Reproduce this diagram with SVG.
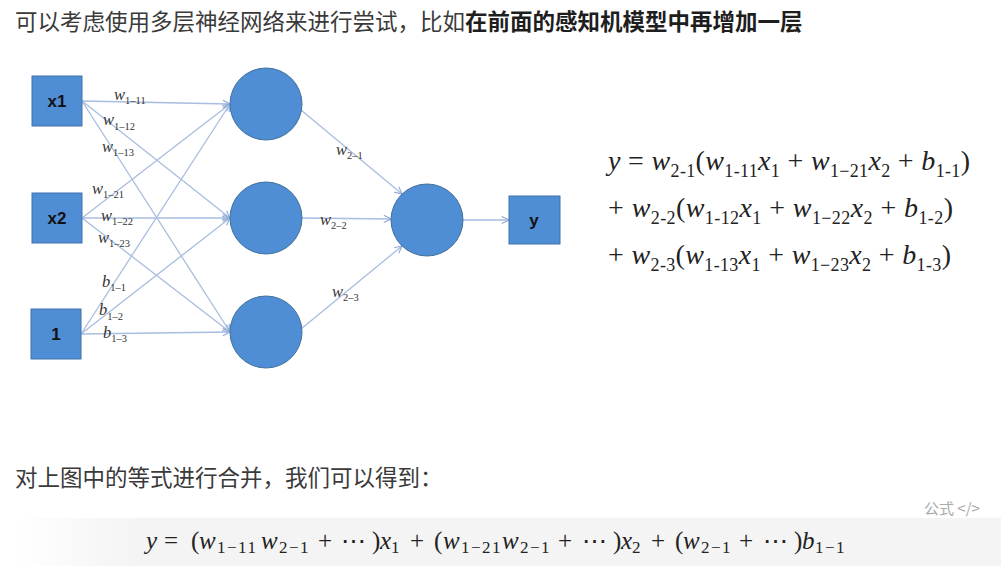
<svg xmlns="http://www.w3.org/2000/svg" width="1001" height="574" viewBox="0 0 1001 574">
<style>
.cn{font-family:"Noto Sans CJK SC","Noto Sans",sans-serif;font-size:22.5px;fill:#3a3a3a}
.cnb{font-weight:bold;fill:#1e1e1e}
.box{fill:#4f8dd4;stroke:#3f72ae;stroke-width:1}
.cir{fill:#4f8dd4;stroke:#41719c;stroke-width:1}
.nt{font-family:"Liberation Sans",Arial,sans-serif;font-weight:bold;font-size:17px;fill:#111;text-anchor:middle}
.conn{stroke:#a8bde0;stroke-width:1.3;fill:none}
.lbl{font-family:"Liberation Serif",serif;font-style:italic;font-size:16.5px;fill:#333}
.ls{font-style:normal;font-size:10.5px}
.eq{font-family:"Liberation Serif",serif;font-size:28px;fill:#222}
.v{font-style:italic}
.es{font-size:18px}
.mf{font-family:"Liberation Serif","DejaVu Serif",serif;font-size:25px;fill:#222}
.ms{font-size:17px;letter-spacing:1.5px}
.tag{font-family:"Noto Sans CJK SC",sans-serif;font-size:15px;fill:#aaa}
</style>
<defs>
<marker id="ah" viewBox="0 0 10 10" refX="9" refY="5" markerWidth="9" markerHeight="9" orient="auto" markerUnits="userSpaceOnUse">
<path d="M1,1 L9,5 L1,9" fill="none" stroke="#93acd6" stroke-width="1.3"/>
</marker>
<linearGradient id="band" x1="0" y1="0" x2="1" y2="0">
<stop offset="0" stop-color="#ffffff"/>
<stop offset="0.12" stop-color="#f4f4f4"/>
<stop offset="1" stop-color="#f4f4f4"/>
</linearGradient>
</defs>
<rect width="1001" height="574" fill="#ffffff"/>

<text x="15" y="30" class="cn">可以考虑使用多层神经网络来进行尝试，比如<tspan class="cnb">在前面的感知机模型中再增加一层</tspan></text>

<g id="connectors">
<line class="conn" x1="82" y1="101" x2="230" y2="104" marker-end="url(#ah)"/>
<line class="conn" x1="82" y1="101" x2="230" y2="218" marker-end="url(#ah)"/>
<line class="conn" x1="82" y1="101" x2="230" y2="332" marker-end="url(#ah)"/>
<line class="conn" x1="82" y1="218" x2="230" y2="104" marker-end="url(#ah)"/>
<line class="conn" x1="82" y1="218" x2="230" y2="218" marker-end="url(#ah)"/>
<line class="conn" x1="82" y1="218" x2="230" y2="332" marker-end="url(#ah)"/>
<line class="conn" x1="81" y1="334" x2="230" y2="104" marker-end="url(#ah)"/>
<line class="conn" x1="81" y1="334" x2="230" y2="218" marker-end="url(#ah)"/>
<line class="conn" x1="81" y1="334" x2="230" y2="332" marker-end="url(#ah)"/>
<line class="conn" x1="301" y1="110" x2="402" y2="194" marker-end="url(#ah)"/>
<line class="conn" x1="302" y1="218" x2="391" y2="219" marker-end="url(#ah)"/>
<line class="conn" x1="301" y1="329" x2="402" y2="246" marker-end="url(#ah)"/>
<line class="conn" x1="463" y1="220" x2="509" y2="220" marker-end="url(#ah)"/>
</g>

<g id="labels">
<text class="lbl" x="114" y="100">w<tspan class="ls" dy="4">1–11</tspan></text>
<text class="lbl" x="103" y="125">w<tspan class="ls" dy="5">1–12</tspan></text>
<text class="lbl" x="102" y="152">w<tspan class="ls" dy="4">1–13</tspan></text>
<text class="lbl" x="92" y="194">w<tspan class="ls" dy="4">1–21</tspan></text>
<text class="lbl" x="101" y="221">w<tspan class="ls" dy="4">1–22</tspan></text>
<text class="lbl" x="98" y="243">w<tspan class="ls" dy="4">1–23</tspan></text>
<text class="lbl" x="102" y="287">b<tspan class="ls" dy="4">1–1</tspan></text>
<text class="lbl" x="99" y="315">b<tspan class="ls" dy="5">1–2</tspan></text>
<text class="lbl" x="103" y="338">b<tspan class="ls" dy="4">1–3</tspan></text>
<text class="lbl" x="336" y="155">w<tspan class="ls" dy="4">2–1</tspan></text>
<text class="lbl" x="320" y="225">w<tspan class="ls" dy="4">2–2</tspan></text>
<text class="lbl" x="332" y="297">w<tspan class="ls" dy="4">2–3</tspan></text>
</g>

<g id="x1"><rect class="box" x="32" y="76" width="50" height="50"/><text class="nt" x="57" y="107">x1</text></g>
<g id="x2"><rect class="box" x="32" y="193" width="50" height="50"/><text class="nt" x="57" y="224">x2</text></g>
<g id="bias"><rect class="box" x="31" y="309" width="50" height="50"/><text class="nt" x="56" y="340">1</text></g>
<g id="h1"><circle class="cir" cx="266" cy="104" r="36"/></g>
<g id="h2"><circle class="cir" cx="266" cy="218" r="36"/></g>
<g id="h3"><circle class="cir" cx="266" cy="332" r="36"/></g>
<g id="out"><circle class="cir" cx="427" cy="220" r="36"/></g>
<g id="y"><rect class="box" x="509" y="196" width="51" height="48"/><text class="nt" x="534" y="226">y</text></g>

<g id="eq-right">
<text class="eq" x="608" y="170" textLength="362" lengthAdjust="spacing"><tspan class="v">y</tspan> = <tspan class="v">w</tspan><tspan class="es" dy="7">2-1</tspan><tspan dy="-7">(</tspan><tspan class="v">w</tspan><tspan class="es" dy="7">1-11</tspan><tspan class="v" dy="-7">x</tspan><tspan class="es" dy="7">1</tspan><tspan dy="-7"> + </tspan><tspan class="v">w</tspan><tspan class="es" dy="7">1−21</tspan><tspan class="v" dy="-7">x</tspan><tspan class="es" dy="7">2</tspan><tspan dy="-7"> + </tspan><tspan class="v">b</tspan><tspan class="es" dy="7">1-1</tspan><tspan dy="-7">)</tspan></text>
<text class="eq" x="608" y="217" textLength="345" lengthAdjust="spacing">+ <tspan class="v">w</tspan><tspan class="es" dy="7">2-2</tspan><tspan dy="-7">(</tspan><tspan class="v">w</tspan><tspan class="es" dy="7">1-12</tspan><tspan class="v" dy="-7">x</tspan><tspan class="es" dy="7">1</tspan><tspan dy="-7"> + </tspan><tspan class="v">w</tspan><tspan class="es" dy="7">1−22</tspan><tspan class="v" dy="-7">x</tspan><tspan class="es" dy="7">2</tspan><tspan dy="-7"> + </tspan><tspan class="v">b</tspan><tspan class="es" dy="7">1-2</tspan><tspan dy="-7">)</tspan></text>
<text class="eq" x="608" y="264" textLength="343" lengthAdjust="spacing">+ <tspan class="v">w</tspan><tspan class="es" dy="7">2-3</tspan><tspan dy="-7">(</tspan><tspan class="v">w</tspan><tspan class="es" dy="7">1-13</tspan><tspan class="v" dy="-7">x</tspan><tspan class="es" dy="7">1</tspan><tspan dy="-7"> + </tspan><tspan class="v">w</tspan><tspan class="es" dy="7">1−23</tspan><tspan class="v" dy="-7">x</tspan><tspan class="es" dy="7">2</tspan><tspan dy="-7"> + </tspan><tspan class="v">b</tspan><tspan class="es" dy="7">1-3</tspan><tspan dy="-7">)</tspan></text>
</g>

<text x="15" y="486" class="cn" font-size="22">对上图中的等式进行合并，我们可以得到：</text>
<text x="924" y="514" class="tag">公式 &lt;/&gt;</text>

<rect x="15" y="518" width="986" height="48" fill="url(#band)"/>
<text class="mf" y="549"><tspan class="v" x="146">y</tspan><tspan x="164">=</tspan><tspan x="191">(</tspan><tspan class="v" x="199">w</tspan><tspan class="ms" x="217" y="553">1−11</tspan><tspan class="v" x="261" y="549">w</tspan><tspan class="ms" x="279" y="553">2−1</tspan><tspan x="318" y="549">+</tspan><tspan x="341">⋯</tspan><tspan x="372">)</tspan><tspan class="v" x="380">x</tspan><tspan class="ms" x="391" y="553">1</tspan><tspan x="410" y="549">+</tspan><tspan x="434">(</tspan><tspan class="v" x="443">w</tspan><tspan class="ms" x="461" y="553">1−21</tspan><tspan class="v" x="502" y="549">w</tspan><tspan class="ms" x="520" y="553">2−1</tspan><tspan x="558" y="549">+</tspan><tspan x="582">⋯</tspan><tspan x="613">)</tspan><tspan class="v" x="621">x</tspan><tspan class="ms" x="632" y="553">2</tspan><tspan x="651" y="549">+</tspan><tspan x="675">(</tspan><tspan class="v" x="683">w</tspan><tspan class="ms" x="701" y="553">2−1</tspan><tspan x="739" y="549">+</tspan><tspan x="763">⋯</tspan><tspan x="794">)</tspan><tspan class="v" x="802">b</tspan><tspan class="ms" x="815" y="553">1−1</tspan></text>
</svg>
